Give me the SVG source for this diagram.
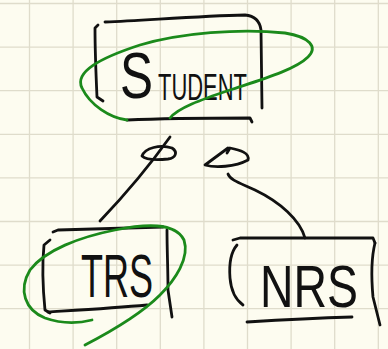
<svg xmlns="http://www.w3.org/2000/svg" width="388" height="349" viewBox="0 0 388 349">
<style>
.grid line{stroke:#dfdccb;stroke-width:1.3}
.ink{fill:none;stroke:#111;stroke-width:2.8;stroke-linecap:round;stroke-linejoin:round}
.hl{fill:none;stroke:#1b8a1b;stroke-width:2.8;stroke-linecap:round;stroke-linejoin:round}
.lbl{font-family:"Liberation Sans","DejaVu Sans",sans-serif;fill:#111}
</style>
<rect width="388" height="349" fill="#fdfcf0"/>
<g class="grid">
<line x1="29.5" y1="0" x2="29.5" y2="349"/><line x1="73.1" y1="0" x2="73.1" y2="349"/><line x1="116.7" y1="0" x2="116.7" y2="349"/><line x1="160.3" y1="0" x2="160.3" y2="349"/><line x1="203.9" y1="0" x2="203.9" y2="349"/><line x1="247.5" y1="0" x2="247.5" y2="349"/><line x1="291.1" y1="0" x2="291.1" y2="349"/><line x1="334.7" y1="0" x2="334.7" y2="349"/><line x1="378.3" y1="0" x2="378.3" y2="349"/>
<line x1="0" y1="3.5" x2="388" y2="3.5"/><line x1="0" y1="47.1" x2="388" y2="47.1"/><line x1="0" y1="90.7" x2="388" y2="90.7"/><line x1="0" y1="134.3" x2="388" y2="134.3"/><line x1="0" y1="177.9" x2="388" y2="177.9"/><line x1="0" y1="221.5" x2="388" y2="221.5"/><line x1="0" y1="265.1" x2="388" y2="265.1"/><line x1="0" y1="308.7" x2="388" y2="308.7"/>
</g>
<g id="connectors">
<path class="ink" d="M100,221 C120,200 145,172 170,137"/>
<path class="ink" d="M142,156 C145,148 160,144 172,148 C178,152 176,158 168,159 C158,160 146,160 142,156"/>
<path class="ink" d="M305,238 C300,220 280,202 255,190 C240,183 230,180 228,174"/>
<path class="ink" d="M228,148 L205,165 C215,168 235,167 248,160 C250,153 240,150 230,148 L227,153"/>
</g>
<g id="student">
<path class="ink" d="M105,22 C150,20 200,16 245,15 C256,16 260,22 261,30 L262,108"/>
<path class="ink" d="M98,25 L95,28 C95,50 96,75 97,97 L103,101"/>
<path class="ink" d="M127,120 C170,118 215,118 250,118 L252,122"/>
<text class="lbl" x="120" y="98" font-size="64" textLength="33" lengthAdjust="spacingAndGlyphs">S</text>
<text class="lbl" x="158" y="100" font-size="36" textLength="89" lengthAdjust="spacingAndGlyphs">TUDENT</text>
<path class="hl" d="M127,120 C110,118 90,105 82,88 C74,72 100,58 140,45 C180,33 240,28 285,33 C310,37 318,47 308,57 C295,70 260,80 230,90 C200,100 178,108 170,118"/>
</g>
<g id="trs">
<path class="ink" d="M53,232 L58,230 C95,229 130,228 163,227"/>
<path class="ink" d="M50,240 L44,245 C42,265 43,290 45,310 L50,313"/>
<path class="ink" d="M48,312 C80,310 115,308 147,305"/>
<path class="ink" d="M167,230 C167,250 168,270 168,290 L172,317"/>
<text class="lbl" x="81" y="297" font-size="62" textLength="72" lengthAdjust="spacingAndGlyphs">TRS</text>
<path class="hl" d="M92,320 C80,323 65,325 45,318 C25,310 18,290 30,270 C45,250 80,237 115,230 C145,224 175,222 184,240 C190,258 175,280 160,295 C140,315 110,332 85,345"/>
</g>
<g id="nrs">
<path class="ink" d="M233,240 L240,238 C290,238 330,238 373,238 L375,243"/>
<path class="ink" d="M237,245 C231,252 229,265 230,278 C231,290 236,300 243,305"/>
<path class="ink" d="M375,243 C372,255 371,275 373,297 L380,325"/>
<path class="ink" d="M247,322 C280,320 320,318 352,317"/>
<text class="lbl" x="260" y="307" font-size="60" textLength="98" lengthAdjust="spacingAndGlyphs">NRS</text>
</g>
</svg>
